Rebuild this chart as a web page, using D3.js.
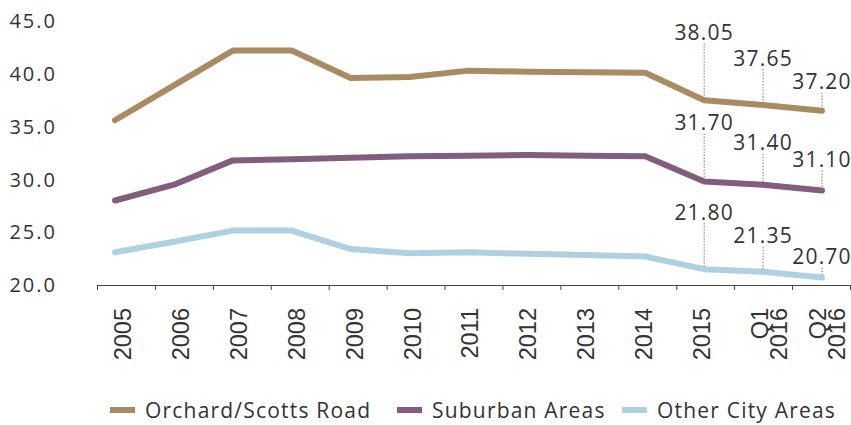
<!DOCTYPE html>
<html>
<head>
<meta charset="utf-8">
<script src="https://cdn.jsdelivr.net/npm/d3@7"></script>
<style>
  body { margin: 0; background: #fff; }
  svg { display: block; }
</style>
</head>
<body>
<div id="chart"></div>
<script>
// chart data
const categories = ["2005", "2006", "2007", "2008", "2009", "2010", "2011", "2012", "2013", "2014", "2015", "Q1 2016", "Q2 2016"];
const orchard = [35.6, 38.9, 42.2, 42.2, 39.6, 39.7, 40.3, 40.2, 40.15, 40.1, 37.5, 37.05, 36.5];
const suburban = [28.0, 29.5, 31.8, 31.9, 32.05, 32.2, 32.25, 32.3, 32.25, 32.2, 29.8, 29.5, 28.95];
const otherCity = [23.1, 24.1, 25.15, 25.15, 23.4, 23.0, 23.1, 22.95, 22.85, 22.7, 21.5, 21.25, 20.7];
const yTicks = [20, 25, 30, 35, 40, 45];
const seriesNames = ["Orchard/Scotts Road", "Suburban Areas", "Other City Areas"];
const calloutLabels = [
    ["38.05", "37.65", "37.20"],
    ["31.70", "31.40", "31.10"],
    ["21.80", "21.35", "20.70"]
];

const width = 851, height = 425;
const colors = ["#a98b62", "#835d7c", "#afd0e0"];
const textColor = "#333";

const svg = d3.select("#chart").append("svg")
    .attr("width", width)
    .attr("height", height);

const y = d3.scaleLinear().domain([20, 45]).range([285, 21]);
// the lines sit slightly inside the category bands (as in the original)
const xLine = d3.scalePoint().domain(categories).range([115, 822]);
const xBand = d3.scaleBand().domain(categories).range([97, 850]);
const xEdge = d3.scaleLinear().domain([0, categories.length]).range([97, 850]);

// y labels only, no axis line
svg.append("g")
    .selectAll("text")
    .data(yTicks)
    .join("text")
    .attr("x", 57)
    .attr("y", d => y(d))
    .attr("dy", "0.36em")
    .attr("text-anchor", "end")
    .style("font-family", "'Open Sans', sans-serif")
    .style("font-size", "20px")
    .style("letter-spacing", "2px")
    .style("fill", textColor)
    .text(d => d3.format(".1f")(d));

// x axis: ticks on band edges
const xAxis = d3.axisBottom(xEdge)
    .tickValues(d3.range(0, categories.length + 1))
    .tickSize(5)
    .tickSizeOuter(0)
    .tickFormat("");

svg.append("g")
    .attr("class", "x-axis")
    .attr("transform", "translate(0," + y(20) + ")")
    .call(xAxis)
    .call(g => g.selectAll("line, path").attr("stroke", "#444"));

// rotated category labels
const xLabels = svg.append("g")
    .selectAll("text")
    .data(categories)
    .join("text")
    .attr("transform", d => "translate(" + (xBand(d) + xBand.bandwidth() / 2 - 3.5) + ",308) rotate(-90)")
    .attr("text-anchor", "end")
    .style("font-family", "'Liberation Sans', Arial, sans-serif")
    .style("font-size", "23.5px")
    .style("fill", textColor);

xLabels.each(function(d) {
    const parts = d.split(" ");
    const t = d3.select(this);
    parts.forEach((p, i) => {
        t.append("tspan")
            .attr("x", 0)
            .attr("y", i * 19)
            .attr("dy", "0.36em")
            .text(p);
    });
});

// lines
const seriesValues = [orchard, suburban, otherCity];
const line = d3.line()
    .x((d, i) => xLine(categories[i]))
    .y(d => y(d));

svg.append("g")
    .selectAll("path")
    .data(seriesValues)
    .join("path")
    .attr("d", d => line(d))
    .attr("fill", "none")
    .attr("stroke", (d, i) => colors[i])
    .attr("stroke-width", 6)
    .attr("stroke-linecap", "round")
    .attr("stroke-linejoin", "round");

// callouts for the last three points: dotted leader + value label
const calloutRise = [[68, 47, 29], [59, 42, 31], [57, 36, 21]];
const lastCats = categories.slice(-3);
const callouts = svg.append("g");

seriesValues.forEach((vals, s) => {
    lastCats.forEach((c, k) => {
        const v = vals[categories.indexOf(c)];
        const px = xLine(c), py = y(v);
        const ly = py - calloutRise[s][k];
        callouts.append("line")
            .attr("x1", px).attr("x2", px)
            .attr("y1", ly + 11).attr("y2", py - 1)
            .attr("stroke", "#777")
            .attr("stroke-width", 1)
            .attr("stroke-dasharray", "1.5,1.5");
        callouts.append("text")
            .attr("x", px)
            .attr("y", ly)
            .attr("dy", "0.36em")
            .attr("text-anchor", "middle")
            .style("font-family", "'Open Sans', sans-serif")
            .style("font-size", "21px")
            .style("letter-spacing", "1.2px")
            .style("fill", textColor)
            .text(calloutLabels[s][k]);
    });
});

// legend
const legendX = [110, 397, 622];
const legend = svg.append("g").attr("transform", "translate(0,410)");
seriesNames.forEach((name, i) => {
    legend.append("rect")
        .attr("x", legendX[i])
        .attr("y", -3)
        .attr("width", 25)
        .attr("height", 6)
        .attr("fill", colors[i]);
    legend.append("text")
        .attr("x", legendX[i] + 35)
        .attr("y", 0)
        .attr("dy", "0.36em")
        .style("font-family", "'Open Sans', sans-serif")
        .style("font-size", "21px")
        .style("letter-spacing", "1.2px")
        .style("fill", textColor)
        .text(name);
});
</script>
</body>
</html>
